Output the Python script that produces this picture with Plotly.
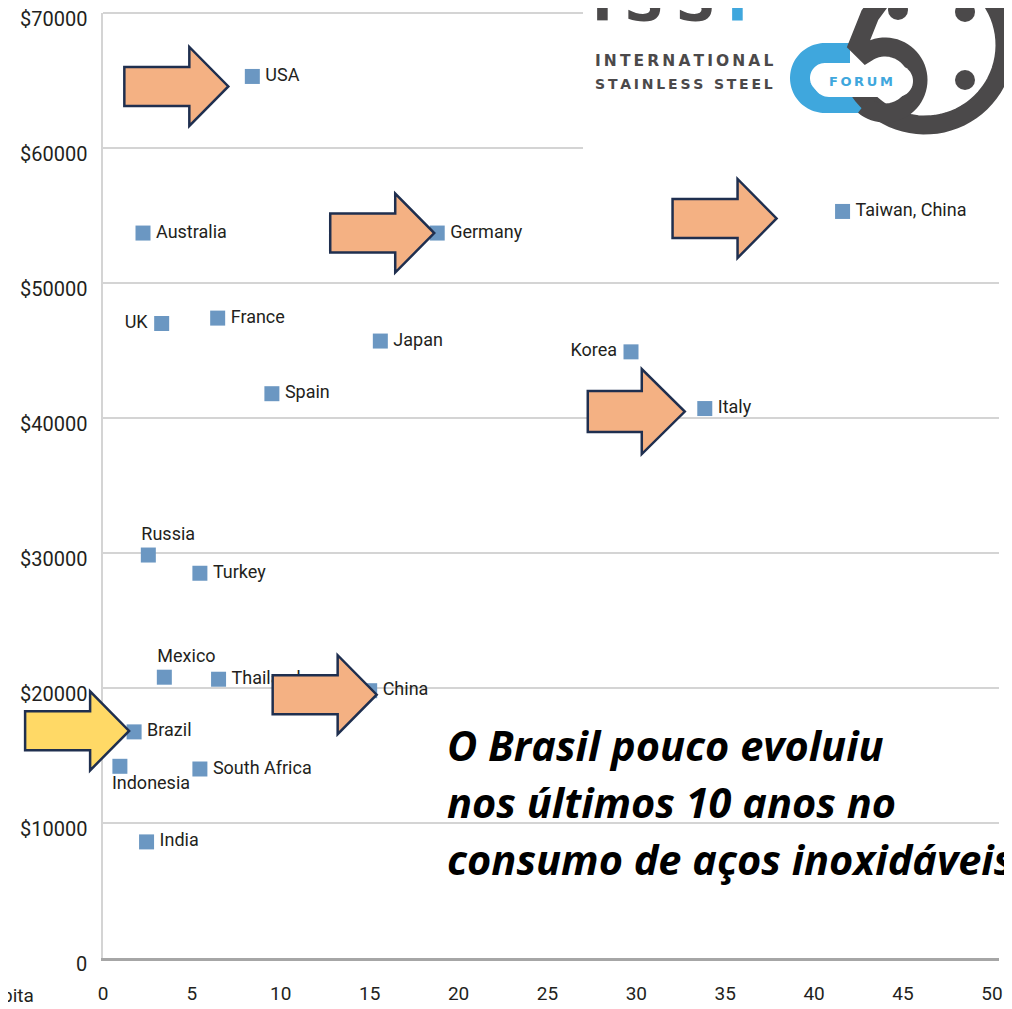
import numpy as np
import plotly.graph_objects as go

countries = ["USA", "Australia", "Germany", "Taiwan, China", "UK", "France", "Japan", "Korea",
             "Spain", "Italy", "Russia", "Turkey", "Mexico", "Thailand", "China", "Brazil",
             "Indonesia", "South Africa", "India"]
# kg per capita (x) and GDP per capita in $ (y)
consumption = [8.4, 2.25, 18.8, 41.6, 3.3, 6.45, 15.6, 29.7, 9.5, 33.85, 2.55, 5.45, 3.45, 6.5,
               15.0, 1.75, 0.95, 5.45, 2.45]
gdp = [65300, 53700, 53700, 55300, 47000, 47400, 45700, 44900, 41800, 40700, 29850, 28500,
       20800, 20650, 19800, 16750, 14200, 14000, 8600]

x_ticks = [0, 5, 10, 15, 20, 25, 30, 35, 40, 45, 50]
y_ticks = [0, 10000, 20000, 30000, 40000, 50000, 60000, 70000]
y_tick_labels = ["0"] + ["$%d" % v for v in y_ticks[1:]]

highlighted = ["USA", "Germany", "Taiwan, China", "Italy", "China", "Brazil"]

message = ["O Brasil pouco evoluiu", "nos últimos 10 anos no", "consumo de aços inoxidáveis"]

# page geometry (pixels, page coordinates); the html body adds an 8px offset
PAGE_W, PAGE_H, OFF = 1012, 1009, 8
W, H = PAGE_W - OFF, PAGE_H - OFF
X_LEFT, X_RIGHT, Y_TOP, Y_BOTTOM = 103, 999, 13, 958
X_MAX, Y_MAX = 50.4, 70000
PW, PH = X_RIGHT - X_LEFT, Y_BOTTOM - Y_TOP
sx, sy = PW / X_MAX, PH / Y_MAX
GRID = "#d4d4d4"
INK = "#231f20"


def to_px(x, y):
    return X_LEFT + x * sx, Y_TOP + (Y_MAX - y) * sy


def to_data(px, py):
    return (px - X_LEFT) / sx, Y_MAX - (py - Y_TOP) / sy


def to_paper(px, py):
    return (px - X_LEFT) / PW, (Y_BOTTOM - py) / PH


def path_from(points, close=True):
    s = ""
    for i, (px, py) in enumerate(points):
        xp, yp = to_paper(px, py)
        s += ("M" if i == 0 else "L") + "%.5f,%.5f " % (xp, yp)
    return s + ("Z" if close else "")


def arc_pts(cx, cy, r, t0, t1, n=50):
    t = np.radians(np.linspace(t0, t1, n))
    return list(zip(cx + r * np.cos(t), cy + r * np.sin(t)))


# labels placement (pixel offsets from the marker)
label_place = {"UK": "left", "Korea": "left", "Russia": "above", "Mexico": "above",
               "Indonesia": "below"}
lab_x, lab_y, lab_pos = [], [], []
for c, x, y in zip(countries, consumption, gdp):
    px, py = to_px(x, y)
    side = label_place.get(c, "right")
    if side == "right":
        p, pos = (px + 13, py), "middle right"
    elif side == "left":
        p, pos = (px - 14, py), "middle left"
    elif side == "above":
        p, pos = (px - 7, py - 20), "middle right"
    else:
        p, pos = (px - 8, py + 18), "middle right"
    dx, dy = to_data(*p)
    lab_x.append(dx)
    lab_y.append(dy)
    lab_pos.append(pos)

fig = go.Figure()
fig.add_trace(go.Scatter(x=consumption, y=gdp, mode="markers",
                         marker=dict(symbol="square", size=15, color="#6b97c2"),
                         hoverinfo="skip"))
fig.add_trace(go.Scatter(x=lab_x, y=lab_y, mode="text", text=countries, textposition=lab_pos,
                         textfont=dict(family="Roboto", size=18, color=INK),
                         hoverinfo="skip"))

shapes = []
# top gridline (range edge)
shapes.append(dict(type="line", xref="paper", yref="paper", layer="below",
                   x0=0, x1=1, y0=1, y1=1, line=dict(color=GRID, width=2)))
# logo background hides the top gridlines
shapes.append(dict(type="rect", xref="paper", yref="paper", layer="above",
                   x0=to_paper(583, 0)[0], x1=to_paper(1020, 0)[0],
                   y0=to_paper(0, 152)[1], y1=to_paper(0, -10)[1],
                   fillcolor="white", line=dict(width=0)))

logo_grey = "#4b494a"
logo_blue = "#3fa7dd"
# blue C
c_pts = [(872, 103)] + arc_pts(825, 78, 25, 90, 270) + [(850, 53)]
shapes.append(dict(type="path", xref="paper", yref="paper", layer="above",
                   path=path_from(c_pts, close=False), line=dict(color=logo_blue, width=20)))
# grey ring ")" and the 5
shapes.append(dict(type="path", xref="paper", yref="paper", layer="above",
                   path=path_from(arc_pts(925, 45, 80, -72, 150), close=False),
                   line=dict(color=logo_grey, width=19)))
five = [(890, -12), (870, 15), (858, 45)] + arc_pts(885, 80, 33, -125, 130)
shapes.append(dict(type="path", xref="paper", yref="paper", layer="above",
                   path=path_from(five, close=False), line=dict(color=logo_grey, width=19)))
# white pill with FORUM
pill = arc_pts(829, 81, 16, 90, 270, 25) + arc_pts(897, 81, 16, -90, 90, 25)
shapes.append(dict(type="path", xref="paper", yref="paper", layer="above",
                   path=path_from(pill), fillcolor="white", line=dict(width=0)))
for cx, cy in [(898, 10), (965, 12), (965, 80)]:
    x0, y0 = to_paper(cx - 10, cy + 10)
    x1, y1 = to_paper(cx + 10, cy - 10)
    shapes.append(dict(type="circle", xref="paper", yref="paper", layer="above",
                       x0=x0, x1=x1, y0=y0, y1=y1, fillcolor=logo_grey, line=dict(width=0)))

# arrows pointing at the highlighted countries
arrow_tip = {"USA": (-24, 10), "Germany": (-3, 0), "Taiwan, China": (-66, 7),
             "Italy": (-20, 3), "China": (7, 4), "Brazil": (-5, -1)}
for c in highlighted:
    i = countries.index(c)
    px, py = to_px(consumption[i], gdp[i])
    tx, ty = px + arrow_tip[c][0], py + arrow_tip[c][1]
    L, HL, SH, HH = 104, 39, 39, 79
    if c == "Italy":
        L, HL, SH, HH = 97, 43, 41, 85
    pts = [(tx - L, ty - SH / 2), (tx - HL, ty - SH / 2), (tx - HL, ty - HH / 2), (tx, ty),
           (tx - HL, ty + HH / 2), (tx - HL, ty + SH / 2), (tx - L, ty + SH / 2)]
    shapes.append(dict(type="path", xref="paper", yref="paper", layer="above",
                       path=path_from(pts),
                       fillcolor="#ffd966" if c == "Brazil" else "#f4b183",
                       line=dict(color="#1f2f4f", width=2.5)))

annotations = []
# y tick labels sit a little below their gridlines
for v, t in zip(y_ticks, y_tick_labels):
    annotations.append(dict(xref="paper", yref="y", x=to_paper(89, 0)[0], y=v, yshift=-6,
                            xanchor="right", yanchor="middle", showarrow=False, text=t,
                            font=dict(family="Roboto", size=20, color=INK)))

for k, line in enumerate(message):
    xp, yp = to_paper(445, 745 + 57 * k)
    annotations.append(dict(xref="paper", yref="paper", x=xp, y=yp, xanchor="left",
                            yanchor="middle", showarrow=False, text="<b><i>%s</i></b>" % line,
                            font=dict(family="Open Sans", size=41.5, color="black")))

xp, yp = to_paper(36, 995)
annotations.append(dict(xref="paper", yref="paper", x=xp, y=yp, xanchor="right",
                        yanchor="middle", showarrow=False, text="kg per capita",
                        font=dict(family="Roboto", size=19, color=INK)))

thin = "\u2009"
for txt, py, fs in [("INTERNATIONAL", 61, 15.5), ("STAINLESS STEEL", 84, 14)]:
    xp, yp = to_paper(593, py)
    annotations.append(dict(xref="paper", yref="paper", x=xp, y=yp, xanchor="left",
                            yanchor="middle", showarrow=False,
                            text="<b>%s</b>" % thin.join(txt),
                            font=dict(family="DejaVu Sans", size=fs, color=logo_grey)))
xp, yp = to_paper(861, 82)
annotations.append(dict(xref="paper", yref="paper", x=xp, y=yp, xanchor="center",
                        yanchor="middle", showarrow=False, text="<b>%s</b>" % thin.join("FORUM"),
                        font=dict(family="DejaVu Sans", size=13, color=logo_blue)))
xp, yp = to_paper(590, 35)
annotations.append(dict(xref="paper", yref="paper", x=xp, y=yp, xanchor="left",
                        yanchor="bottom", showarrow=False,
                        text="<b>I" + thin + "S" + thin + "S" + thin +
                             "<span style='color:%s'>F</span></b>" % logo_blue,
                        font=dict(family="DejaVu Sans", size=56, color=logo_grey)))

fig.update_layout(
    width=W, height=H, autosize=False,
    margin=dict(l=X_LEFT - OFF, r=W - (X_RIGHT - OFF), t=Y_TOP - OFF, b=H - (Y_BOTTOM - OFF),
                pad=0),
    paper_bgcolor="white", plot_bgcolor="white",
    showlegend=False,
    shapes=shapes, annotations=annotations,
    xaxis=dict(range=[0, X_MAX], tickvals=x_ticks, showgrid=False, zeroline=False,
               showline=True, linecolor="#a6a6a6", linewidth=3, ticks="",
               ticklabelstandoff=16, automargin=False, ticklabeloverflow="allow",
               tickfont=dict(family="Roboto", size=19, color=INK)),
    yaxis=dict(range=[0, Y_MAX], tickvals=y_ticks, showticklabels=False, showgrid=True,
               gridcolor=GRID, gridwidth=2, zeroline=False, showline=True,
               linecolor=GRID, linewidth=2, ticks="", automargin=False),
)

fig.write_html("out.html")
